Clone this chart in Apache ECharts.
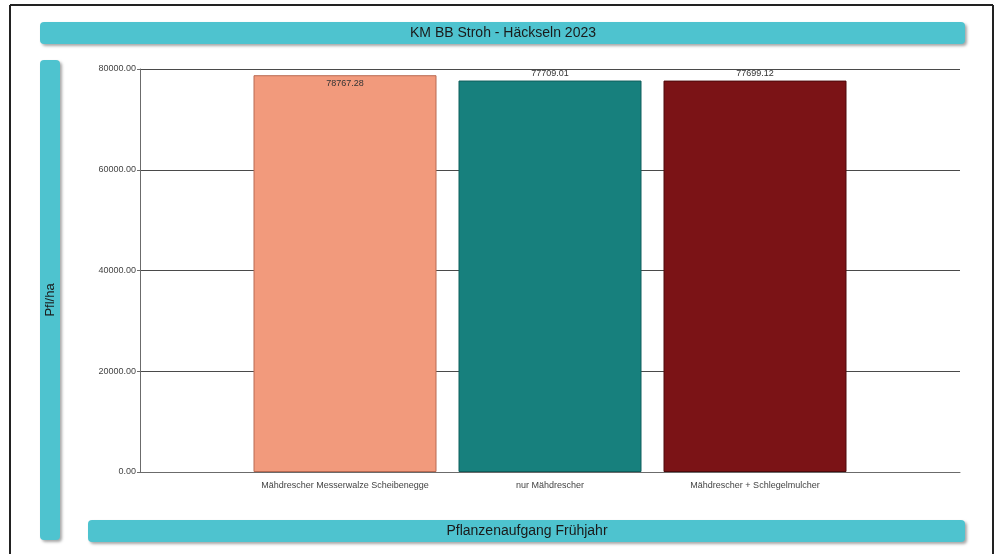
<!DOCTYPE html>
<html>
<head>
<meta charset="utf-8">
<script src="https://cdn.jsdelivr.net/npm/echarts@6/dist/echarts.min.js"></script>
<style>
  html, body { margin: 0; padding: 0; background: #fff; }
  #chart { width: 998px; height: 554px; }
</style>
</head>
<body>
<div id="chart"></div>
<script>
// Treatments and plant counts (plants per hectare)
const categories = [
  'Mähdrescher Messerwalze Scheibenegge',
  'nur Mähdrescher',
  'Mähdrescher + Schlegelmulcher'
];
const plantsPerHa = [78767.28, 77709.01, 77699.12];
const barColors = ['#f29a7c', '#17807d', '#7b1316'];
const barBorders = ['#b86a52', '#0f5e5c', '#4e0a0c'];
const yTicks = { min: 0, max: 80000, interval: 20000 };

const chartTitle = 'KM BB Stroh - Häckseln 2023';
const yTitle = 'Pfl/ha';
const xTitle = 'Pflanzenaufgang Frühjahr';

// Empty slots at both ends so the bars sit on the inner ticks of the axis
const axisCats = [''].concat(categories, ['']);
const seriesData = [null].concat(plantsPerHa.map((v, i) => ({
  value: v,
  itemStyle: { color: barColors[i], borderColor: barBorders[i], borderWidth: 1 },
  label: i === 0
    ? { position: 'insideTop', distance: 4 }
    : { position: 'top', distance: 3 }
})), [null]);

const teal = '#4ec3cf';
const bandShadow = { shadowBlur: 3, shadowOffsetX: 2, shadowOffsetY: 2, shadowColor: 'rgba(0,0,0,0.35)' };

const chart = echarts.init(document.getElementById('chart'), null, { renderer: 'canvas' });
chart.setOption({
  backgroundColor: '#ffffff',
  animation: false,
  grid: { left: 140, right: 38, top: 69, bottom: 82, containLabel: false },
  xAxis: {
    type: 'category',
    data: axisCats,
    boundaryGap: false,
    axisLine: { lineStyle: { color: '#6b6b6b', width: 1 } },
    axisTick: { show: false },
    axisLabel: { color: '#444', fontSize: 9, fontFamily: 'Liberation Sans', margin: 9, interval: 0 },
    splitLine: { show: false }
  },
  yAxis: {
    type: 'value',
    min: yTicks.min,
    max: yTicks.max,
    interval: yTicks.interval,
    axisLine: { show: true, lineStyle: { color: '#6b6b6b', width: 1 } },
    axisTick: { show: true, length: 3, lineStyle: { color: '#6b6b6b' } },
    axisLabel: {
      color: '#444', fontSize: 9, fontFamily: 'Liberation Sans', margin: 4,
      formatter: v => v.toFixed(2)
    },
    splitLine: { show: true, lineStyle: { color: '#4a4a4a', width: 1 } }
  },
  series: [{
    type: 'bar',
    data: seriesData,
    barWidth: 183,
    label: {
      show: true,
      color: '#333',
      fontSize: 9,
      fontFamily: 'Liberation Sans',
      formatter: p => p.value.toFixed(2)
    }
  }],
  graphic: [
    // outer frame
    { type: 'line', z: 10, shape: { x1: 10, y1: 5, x2: 993, y2: 5 }, style: { stroke: '#222', lineWidth: 2 } },
    { type: 'line', z: 10, shape: { x1: 10, y1: 5, x2: 10, y2: 554 }, style: { stroke: '#222', lineWidth: 2 } },
    { type: 'line', z: 10, shape: { x1: 993, y1: 5, x2: 993, y2: 554 }, style: { stroke: '#222', lineWidth: 2 } },
    // title band
    { type: 'rect', z: 1, shape: { x: 40, y: 22, width: 925, height: 22, r: 4 }, style: Object.assign({ fill: teal }, bandShadow) },
    { type: 'text', z: 2, x: 503, y: 33, style: { text: chartTitle, fill: '#1a1a1a', font: '14px "Liberation Sans", Arial, sans-serif', align: 'center', verticalAlign: 'middle' } },
    // y title band
    { type: 'rect', z: 1, shape: { x: 40, y: 60, width: 20, height: 480, r: 4 }, style: Object.assign({ fill: teal }, bandShadow) },
    { type: 'text', z: 2, x: 50, y: 300, rotation: Math.PI / 2, style: { text: yTitle, fill: '#1a1a1a', font: '13px "Liberation Sans", Arial, sans-serif', align: 'center', verticalAlign: 'middle' } },
    // x title band
    { type: 'rect', z: 1, shape: { x: 88, y: 520, width: 877, height: 22, r: 4 }, style: Object.assign({ fill: teal }, bandShadow) },
    { type: 'text', z: 2, x: 527, y: 531, style: { text: xTitle, fill: '#1a1a1a', font: '14px "Liberation Sans", Arial, sans-serif', align: 'center', verticalAlign: 'middle' } }
  ]
});
</script>
</body>
</html>
